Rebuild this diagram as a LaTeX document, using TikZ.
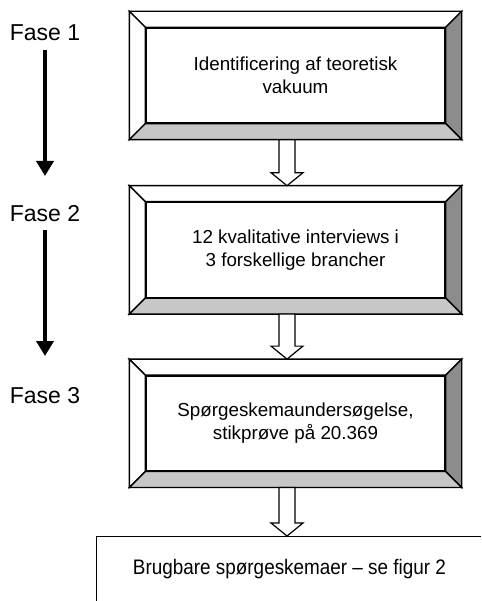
\documentclass[tikz,border=0pt]{standalone}
\usepackage{fontspec}
\setmainfont{Liberation Sans}
\newfontfamily\condensed[FakeStretch=0.9]{Liberation Sans}
\usetikzlibrary{positioning,calc,arrows.meta}
\definecolor{sidegray}{gray}{0.55}
\definecolor{basegray}{gray}{0.78}
% bevelled frame round an inner box node
\newcommand{\bevel}[1]{%
    \draw[face, fill=white] (#1.north west) -- ($(#1.north west)+(-16,16)$) -- ($(#1.north east)+(16,16)$) -- (#1.north east) -- cycle;
    \draw[face, fill=white] (#1.north west) -- ($(#1.north west)+(-16,16)$) -- ($(#1.south west)+(-16,-16)$) -- (#1.south west) -- cycle;
    \draw[face, fill=sidegray] (#1.north east) -- ($(#1.north east)+(16,16)$) -- ($(#1.south east)+(16,-16)$) -- (#1.south east) -- cycle;
    \draw[face, fill=basegray] (#1.south west) -- ($(#1.south west)+(-16,-16)$) -- ($(#1.south east)+(16,-16)$) -- (#1.south east) -- cycle;
}
% hollow block arrow between two coordinates
\newcommand{\blockarrow}[2]{%
    \draw[hollow] ($(#1)+(-8,0)$) -- ($(#2)+(-8,13)$) -- ($(#2)+(-16,13)$) -- (#2) -- ($(#2)+(16,13)$) -- ($(#2)+(8,13)$) -- ($(#1)+(8,0)$) -- cycle;
}

\begin{document}
\begin{tikzpicture}[
    x=1pt, y=1pt,
    face/.style={draw, line width=1.4pt, line join=miter},
    hollow/.style={draw, fill=white, line width=1.2pt, line join=miter},
    phase/.style={font=\fontsize{23}{28}\selectfont, inner sep=0},
    every edge/.style={draw, line width=4.7pt, -{Triangle[length=15pt, width=17pt]}},
    stage/.style={  draw,
                    line width=1.4pt,
                    fill=white,
                    align=center,
                    font=\fontsize{18.8}{23.5}\selectfont,
                    minimum width=299pt,
                    minimum height=95pt}]

    \useasboundingbox (0,0) rectangle (481,-601);

    \node[stage] at (295.5,-75.5) (b1) {Identificering af teoretisk\\vakuum};
    \node[stage, below=78pt of b1] (b2) {12 kvalitative interviews i\\ 3 forskellige brancher};
    \node[stage, below=77pt of b2] (b3) {Spørgeskemaundersøgelse,\\stikprøve på 20.369};
    \bevel{b1}
    \bevel{b2}
    \bevel{b3}

    \coordinate (a1) at ($(b1.south)+(-8.5,-16)$);
    \coordinate (a2) at ($(b2.north)+(-8.5,16)$);
    \coordinate (a3) at ($(b2.south)+(-8.5,-16)$);
    \coordinate (a4) at ($(b3.north)+(-8.5,16)$);
    \coordinate (a5) at ($(b3.south)+(-8.5,-16)$);
    \coordinate (a6) at (a5 |- 0,-536);
    \blockarrow{a1}{a2}
    \blockarrow{a3}{a4}

    % result box, cut off at the page edge
    \draw[line width=1pt] (481,-536) -| (96,-601);
    \node[font=\condensed\fontsize{21}{24}\selectfont] at (289.5,-569) (res) {Brugbare spørgeskemaer – se figur 2};
    \blockarrow{a5}{a6}

    \node[phase] at (45,-33) (f1) {Fase 1};
    \node[phase] at (45,-213.5) (f2) {Fase 2};
    \node[phase] at (45,-396) (f3) {Fase 3};
    \coordinate (e1) at (45,-176);
    \coordinate (e2) at (45,-356);
    \path (45,-50) edge (e1)
          (45,-230) edge (e2);

\end{tikzpicture}
\end{document}
